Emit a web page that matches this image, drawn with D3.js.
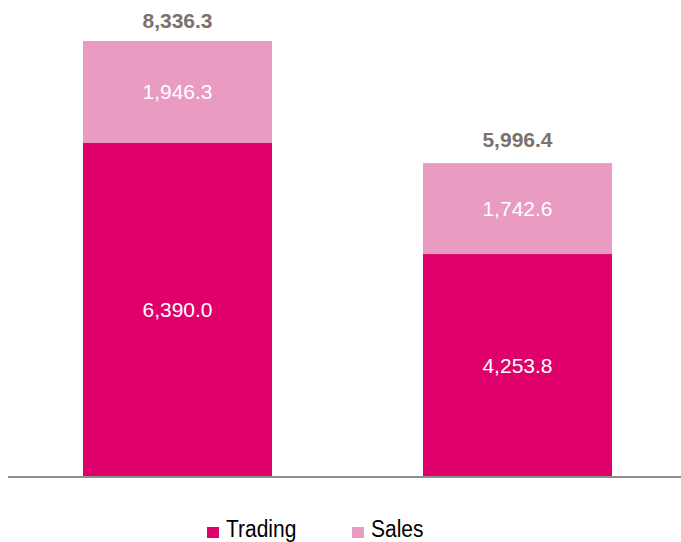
<!DOCTYPE html>
<html><head><meta charset="utf-8">
<script src="https://cdn.jsdelivr.net/npm/d3@7"></script>
<style>html,body{margin:0;padding:0;background:#fff;}svg{display:block;font-family:"Liberation Sans",Arial,sans-serif;}</style>
</head><body>
<svg id="c" width="681" height="542"></svg>
<script>
const categories = ["Period 1", "Period 2"];
const trading = [6390.0, 4253.8];
const sales = [1946.3, 1742.6];
const totals = [8336.3, 5996.4];
const seriesNames = ["Trading", "Sales"];
const colors = ["#e0006b", "#ea9bc2"];

const svg = d3.select("#c");
const x = d3.scaleBand().domain(categories).range([15, 680]).paddingInner(0.444).paddingOuter(0.2);
const y = d3.scaleLinear().domain([0, 9000]).range([476, 6.4]);
const fmt = d3.format(",.1f");

const rows = categories.map((c, i) => ({cat: c, Trading: trading[i], Sales: sales[i]}));
const stack = d3.stack().keys(seriesNames)(rows);

stack.forEach((layer, li) => {
  const g = svg.append("g");
  g.selectAll("rect").data(layer).join("rect")
    .attr("x", d => x(d.data.cat))
    .attr("width", x.bandwidth())
    .attr("y", d => y(d[1]))
    .attr("height", d => y(d[0]) - y(d[1]))
    .attr("fill", colors[li]);
  g.selectAll("text").data(layer).join("text")
    .attr("x", d => x(d.data.cat) + x.bandwidth() / 2)
    .attr("y", d => (y(d[0]) + y(d[1])) / 2)
    .attr("dy", "0.36em")
    .attr("text-anchor", "middle")
    .attr("fill", "#ffffff")
    .attr("font-size", 21)
    .text(d => fmt(d[1] - d[0]));
});

svg.append("g").selectAll("text").data(categories).join("text")
  .attr("x", c => x(c) + x.bandwidth() / 2)
  .attr("y", (c, i) => Math.max(y(totals[i]) - 16, 28))
  .attr("text-anchor", "middle")
  .attr("fill", "#7b716a")
  .attr("font-weight", "bold")
  .attr("font-size", 21)
  .text((c, i) => fmt(totals[i]));

svg.append("line")
  .attr("x1", 8).attr("x2", 681)
  .attr("y1", y(0) + 1).attr("y2", y(0) + 1)
  .attr("stroke", "#8f8f8f").attr("stroke-width", 2);

const legendX = [207, 352];
const lg = svg.append("g").selectAll("g").data(seriesNames).join("g")
  .attr("transform", (d, i) => `translate(${legendX[i]},0)`);
lg.append("rect").attr("x", 0).attr("y", 527).attr("width", 12).attr("height", 11)
  .attr("fill", (d, i) => colors[i]);
lg.append("text").attr("transform", "translate(19,537) scale(1,1.12)")
  .attr("font-size", 21).attr("fill", "#000")
  .text(d => d);
</script>
</body></html>
